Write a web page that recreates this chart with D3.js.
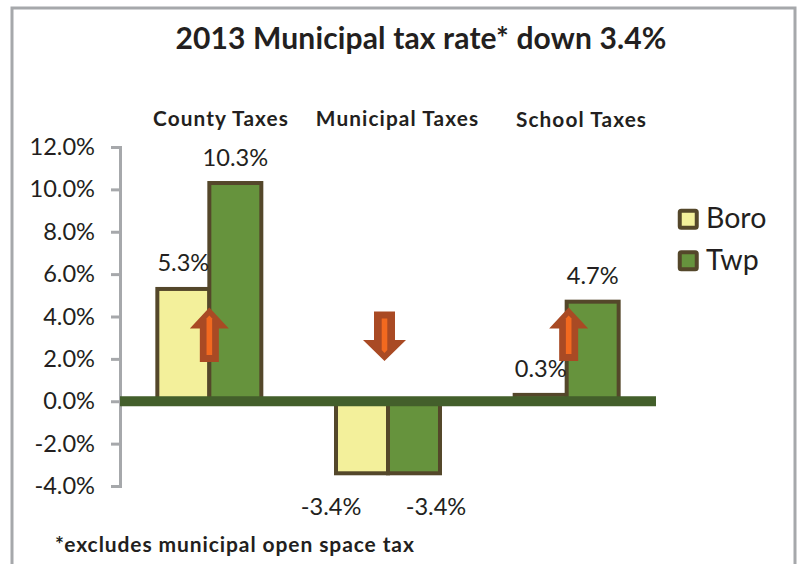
<!DOCTYPE html>
<html>
<head>
<meta charset="utf-8">
<script src="https://cdnjs.cloudflare.com/ajax/libs/d3/7.8.5/d3.min.js"></script>
<style>
  html, body { margin: 0; padding: 0; background: #fff; }
  svg { display: block; }
  text { font-family: Lato, "Open Sans", sans-serif; fill: #231f20; }
</style>
</head>
<body>
<svg id="chart" width="801" height="564"></svg>
<script>
const categories = ["County Taxes", "Municipal Taxes", "School Taxes"];
const seriesNames = ["Boro", "Twp"];
const boroValues = [5.3, -3.4, 0.3];
const twpValues = [10.3, -3.4, 4.7];
const yTicks = [12, 10, 8, 6, 4, 2, 0, -2, -4];
const titleText = "2013 Municipal tax rate* down 3.4%";
const footnoteText = "*excludes municipal open space tax";
// Direction arrows: tail and tip in percentage points on the value axis
const arrowCategories = ["County Taxes", "Municipal Taxes", "School Taxes"];
const arrowTails = [1.85, 4.24, 1.9];
const arrowTips = [4.43, 1.9, 4.43];

const colors = { Boro: "#f3f09b", Twp: "#66933d" };
const barStroke = "#54472a";
const axisGray = "#a6a8ab";

const svg = d3.select("#chart");

// Outer frame, open at the bottom edge
svg.append("path")
  .attr("d", "M12 564V8H795V564")
  .attr("fill", "none")
  .attr("stroke", axisGray)
  .attr("stroke-width", 3);

const y = d3.scaleLinear().domain([-4, 12]).range([486, 147]);
const x0 = d3.scaleBand().domain(categories).range([120, 656])
  .paddingInner(0.418).paddingOuter(0.209);
const x1 = d3.scaleBand().domain(seriesNames).range([0, x0.bandwidth()]);

// Value axis
const axis = svg.append("g")
  .attr("transform", `translate(${x0.range()[0]},0)`)
  .call(d3.axisLeft(y).tickValues(yTicks).tickFormat(d => d.toFixed(1) + "%")
    .tickSize(9).tickPadding(16));
axis.selectAll("path, line").attr("stroke", axisGray).attr("stroke-width", 3);
axis.selectAll("text").style("font-size", "23.6px").attr("fill", "#231f20");

// Bars
const rows = seriesNames.flatMap((s, si) =>
  categories.map((c, i) => ({ series: s, category: c, value: (si ? twpValues : boroValues)[i] })));

svg.append("g").selectAll("rect").data(rows).join("rect")
  .attr("x", d => x0(d.category) + x1(d.series))
  .attr("y", d => y(Math.max(0, d.value)))
  .attr("width", x1.bandwidth())
  .attr("height", d => Math.abs(y(d.value) - y(0)))
  .attr("fill", d => colors[d.series])
  .attr("stroke", barStroke)
  .attr("stroke-width", 4);

// Zero line sits on top of the bars
svg.append("rect")
  .attr("x", x0.range()[0]).attr("width", x0.range()[1] - x0.range()[0])
  .attr("y", y(0) - 5).attr("height", 10)
  .attr("fill", "#435f2b");

// Value labels, pushed outward from the pair of bars
svg.append("g").selectAll("text").data(rows).join("text")
  .attr("x", d => {
    const c = x0(d.category) + x1(d.series) + x1.bandwidth() / 2;
    if (d.value < 0) return c + (d.series === "Boro" ? -31 : 22);
    return c;
  })
  .attr("y", d => d.value < 0 ? y(d.value) + 42 : y(d.value) - 17.5)
  .attr("text-anchor", "middle")
  .style("font-size", "23.6px")
  .text(d => d.value.toFixed(1) + "%");

// Arrows drawn in two layers: a rust body and a thin orange core
const arrowG = svg.append("g");
arrowCategories.forEach((c, i) => {
  const cx = x0(c) + x0.bandwidth() / 2 + [0, -3.5, 2][i];
  const tail = y(arrowTails[i]), tip = y(arrowTips[i]);
  const dir = tip < tail ? -1 : 1;
  const headBase = tip - dir * 21;
  const shaftHalf = dir > 0 ? 10.5 : 9.5;
  const headHalf = dir > 0 ? 21.5 : 19.5;
  const body = [[cx - shaftHalf, tail], [cx + shaftHalf, tail], [cx + shaftHalf, headBase], [cx + headHalf, headBase],
                [cx, tip], [cx - headHalf, headBase], [cx - shaftHalf, headBase]];
  arrowG.append("path").attr("d", d3.line()(body) + "Z").attr("fill", "#a94a24");
  const coreTail = tail + dir * 7, coreTip = tip - dir * 11;
  const core = [[cx - 2.8, coreTail], [cx + 2.8, coreTail], [cx + 2.8, coreTip], [cx, coreTip + dir * 3], [cx - 2.8, coreTip]];
  arrowG.append("path").attr("d", d3.line()(core) + "Z").attr("fill", "#f2691f");
});

// Category headings above the plot
const headingX = [221, 397.5, 581.5];
const headingY = [126, 126, 127];
svg.append("g").selectAll("text").data(categories).join("text")
  .attr("x", (d, i) => headingX[i]).attr("y", (d, i) => headingY[i])
  .attr("text-anchor", "middle")
  .style("font-size", "20.8px").style("font-weight", 700).style("letter-spacing", "1.1px")
  .text(d => d);

// Title
svg.append("text").attr("x", 421).attr("y", 49).attr("text-anchor", "middle")
  .style("font-size", "30px").style("font-weight", 700).style("letter-spacing", "0.15px").text(titleText);

// Footnote
svg.append("text").attr("x", 55).attr("y", 552)
  .style("font-size", "21px").style("font-weight", 700).style("letter-spacing", "0.9px").text(footnoteText);

// Legend
const legend = svg.append("g").selectAll("g").data(seriesNames).join("g")
  .attr("transform", (d, i) => `translate(678,${209 + i * 41.5})`);
legend.append("rect")
  .attr("x", 1.75).attr("y", 1.75).attr("width", 17).attr("height", 17).attr("rx", 1.5)
  .attr("fill", d => colors[d])
  .attr("stroke", barStroke).attr("stroke-width", 4);
legend.append("text")
  .attr("x", 28).attr("y", 19)
  .style("font-size", "28.5px")
  .text(d => d);
</script>
</body>
</html>
